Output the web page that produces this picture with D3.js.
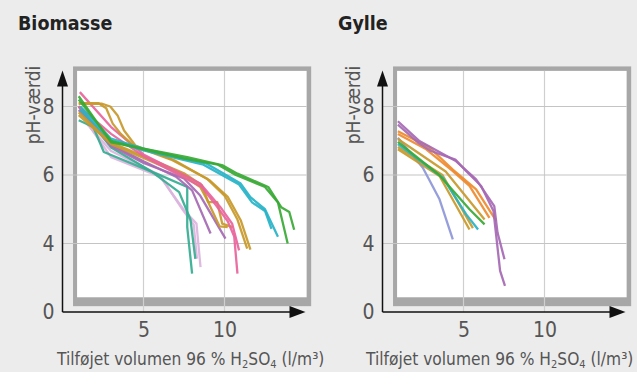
<!DOCTYPE html>
<html>
<head>
<meta charset="utf-8">
<script src="https://cdn.jsdelivr.net/npm/d3@7"></script>
<style>
  body { margin: 0; background: #ececec; }
  text { font-family: 'DejaVu Sans Condensed', 'DejaVu Sans', sans-serif; }
</style>
</head>
<body>
<svg id="chart" width="637" height="372"></svg>
<script>
// axis ticks (y axis is broken: the bottom tick is labelled 0)
var xTicks = [5, 10];
var yTicks = [2, 4, 6, 8];
var yTickLabels = ["0", "4", "6", "8"];
var gridY = [4, 6, 8];

// Biomasse: [volumen l/m3, pH]
var bioGreen1 = [[1.0,8.3],[3.0,6.95],[5.0,6.77],[7.7,6.52],[9.9,6.28],[10.8,6.04],[12.7,5.65],[13.5,5.06],[14.0,4.92],[14.3,4.4]];
var bioGreen2 = [[1.0,8.2],[3.0,7.0],[5.0,6.75],[7.5,6.48],[9.6,6.3],[10.7,6.0],[12.5,5.65],[13.3,5.2],[13.9,4.0]];
var bioCyan1 = [[1.1,8.0],[3.0,7.06],[5.0,6.77],[8.9,6.33],[11.0,5.75],[11.6,5.35],[12.5,5.0],[13.3,4.2]];
var bioCyan2 = [[1.1,7.9],[3.0,7.0],[5.0,6.72],[8.7,6.3],[10.9,5.72],[11.7,5.2],[12.5,4.95],[12.9,4.43]];
var bioGold1 = [[1.0,8.08],[2.45,8.08],[2.95,8.0],[3.4,7.74],[3.8,7.3],[4.5,6.86],[6.9,6.43],[9.1,5.84],[10.2,5.36],[11.0,4.68],[11.6,3.82]];
var bioGold2 = [[1.0,8.1],[2.2,8.1],[2.7,7.95],[3.1,7.5],[3.6,7.2],[4.4,6.85],[6.7,6.45],[8.9,5.9],[10.0,5.4],[10.8,4.7],[11.4,3.85]];
var bioGold3 = [[1.0,7.83],[3.0,6.95],[5.0,6.55],[7.5,6.05],[8.6,5.7],[9.0,5.21],[9.55,5.21],[9.86,4.58],[10.5,4.48]];
var bioGold4 = [[1.0,7.75],[3.0,6.9],[5.0,6.5],[7.4,6.0],[8.5,5.65],[8.9,5.3],[9.3,4.9],[9.7,4.5],[10.2,4.48]];
var bioPink1 = [[1.07,8.42],[3.0,7.4],[5.0,6.6],[7.5,6.0],[8.5,5.75],[9.75,5.06],[10.47,4.58],[10.9,3.8]];
var bioPink2 = [[1.0,8.0],[3.0,7.2],[5.0,6.55],[7.4,5.95],[8.6,5.65],[9.5,5.1],[10.2,4.65],[10.6,4.2],[10.8,3.12]];
var bioPurple1 = [[1.0,8.0],[3.0,6.9],[5.0,6.4],[7.0,5.95],[8.0,5.55],[9.14,4.29]];
var bioPurple2 = [[1.0,7.9],[3.0,6.85],[5.0,6.35],[7.5,5.9],[8.5,5.4],[10.06,4.14]];
var bioTeal1 = [[1.0,7.6],[1.9,7.4],[2.55,6.67],[6.05,5.99],[7.7,5.65],[7.7,4.48],[8.0,3.12]];
var bioTeal2 = [[1.0,8.0],[3.0,6.8],[5.5,6.1],[7.2,5.5],[7.9,4.7],[8.2,3.55]];
var bioLilac1 = [[1.7,7.4],[3.0,6.52],[6.05,5.94],[7.5,4.97],[8.27,4.58],[8.52,3.31]];
var bioLilac2 = [[1.5,7.5],[3.0,6.7],[6.0,6.0],[7.4,5.0],[8.1,4.55],[8.3,3.56]];

// Gylle
var gylPurple1 = [[0.95,7.57],[2.28,6.99],[4.55,6.4],[5.78,5.87],[6.9,5.09],[7.1,4.32],[7.53,3.54]];
var gylPurple2 = [[0.95,7.47],[2.18,6.95],[3.0,6.7],[4.5,6.45],[5.17,6.11],[6.09,5.68],[6.85,4.95],[7.26,3.2],[7.56,2.76]];
var gylOrange1 = [[0.95,7.28],[2.9,6.8],[4.34,6.16],[5.78,5.58],[7.02,4.66]];
var gylOrange2 = [[0.95,7.2],[2.7,6.75],[4.34,6.11],[5.37,5.68],[6.6,4.75]];
var gylGreen = [[0.95,6.97],[3.5,6.0],[5.37,5.0],[6.3,4.56]];
var gylCyan = [[0.95,6.9],[3.72,5.92],[5.17,4.85],[5.9,4.41]];
var gylGold1 = [[0.95,6.75],[3.52,5.97],[5.37,4.41]];
var gylGold2 = [[0.95,6.82],[3.7,6.0],[5.58,4.45]];
var gylGold3 = [[0.95,7.05],[3.9,6.1],[6.3,4.7]];
var gylBlue = [[0.95,7.09],[2.49,6.21],[3.52,5.29],[4.34,4.12]];

var colors = {
  green: "#38a935", cyan: "#26b3c7", gold: "#c8992a", pink: "#e8649b",
  purple: "#a569b3", teal: "#35ad91", lilac: "#dbb4de", orange: "#ee8a2e",
  blue: "#8d97d8"
};

var biomasse = [
  {c: "lilac", v: bioLilac1}, {c: "lilac", v: bioLilac2},
  {c: "teal", v: bioTeal1}, {c: "teal", v: bioTeal2},
  {c: "purple", v: bioPurple1}, {c: "purple", v: bioPurple2},
  {c: "gold", v: bioGold3}, {c: "gold", v: bioGold4},
  {c: "pink", v: bioPink1}, {c: "pink", v: bioPink2},
  {c: "gold", v: bioGold1}, {c: "gold", v: bioGold2},
  {c: "cyan", v: bioCyan1}, {c: "cyan", v: bioCyan2},
  {c: "green", v: bioGreen1}, {c: "green", v: bioGreen2}
];
var gylle = [
  {c: "blue", v: gylBlue},
  {c: "gold", v: gylGold1}, {c: "gold", v: gylGold2}, {c: "gold", v: gylGold3},
  {c: "cyan", v: gylCyan}, {c: "green", v: gylGreen},
  {c: "orange", v: gylOrange1}, {c: "orange", v: gylOrange2},
  {c: "purple", v: gylPurple1}, {c: "purple", v: gylPurple2}
];

var svg = d3.select("#chart");

var xscale = d3.scaleLinear().domain([0, 10]).range([0, 162]);
var yscale = d3.scaleLinear().domain([2, 8]).range([312, 106.5]);

function drawPanel(left, title, series, labelX) {
  var g = svg.append("g").attr("transform", "translate(" + left + ",0)");

  // title
  g.append("text")
    .attr("x", -44.5).attr("y", 30)
    .attr("font-size", 19.5).attr("font-weight", "bold")
    .attr("fill", "#222")
    .text(title);

  // grey frame + white plot area
  g.append("rect")
    .attr("x", xscale(0.65)).attr("y", yscale(9.17))
    .attr("width", xscale(15.35) - xscale(0.65))
    .attr("height", yscale(2.17) - yscale(9.17))
    .attr("fill", "#a7a7a7");
  g.append("rect")
    .attr("x", xscale(0.9)).attr("y", yscale(9.04))
    .attr("width", xscale(15.07) - xscale(0.9))
    .attr("height", yscale(2.43) - yscale(9.04))
    .attr("fill", "#fff");

  // grid
  g.selectAll(".vgrid").data(xTicks).enter().append("line")
    .attr("x1", function(d) { return xscale(d); })
    .attr("x2", function(d) { return xscale(d); })
    .attr("y1", yscale(9.04)).attr("y2", yscale(2))
    .attr("stroke", "#cfcfcf").attr("stroke-width", 1.2);
  g.selectAll(".hgrid").data(gridY).enter().append("line")
    .attr("x1", xscale(0)).attr("x2", xscale(15.07))
    .attr("y1", function(d) { return yscale(d); })
    .attr("y2", function(d) { return yscale(d); })
    .attr("stroke", "#c4c4c4").attr("stroke-width", 1.2);

  // lines
  var line = d3.line()
    .x(function(d) { return xscale(d[0]); })
    .y(function(d) { return yscale(d[1]); });
  g.selectAll(".series").data(series).enter().append("path")
    .attr("d", function(d) { return line(d.v); })
    .attr("fill", "none")
    .attr("stroke", function(d) { return colors[d.c]; })
    .attr("stroke-width", 2.3)
    .attr("stroke-linejoin", "round")
    .attr("opacity", 0.92);

  // axes (labels only, lines drawn by hand with arrows)
  var yAxis = d3.axisLeft(yscale).tickValues(yTicks).tickSize(0).tickPadding(8)
    .tickFormat(function(d, i) { return yTickLabels[i]; });
  var xAxis = d3.axisBottom(xscale).tickValues(xTicks).tickSize(0).tickPadding(10);

  var ya = g.append("g").attr("transform", "translate(" + xscale(0) + ",0)").call(yAxis);
  var xa = g.append("g").attr("transform", "translate(0," + yscale(2) + ")").call(xAxis);
  [ya, xa].forEach(function(a) {
    a.select(".domain").remove();
    a.selectAll("text").attr("font-size", 21).attr("fill", "#555")
      .style("font-family", "'DejaVu Sans Condensed', 'DejaVu Sans', sans-serif");
  });

  g.append("line")
    .attr("x1", xscale(0)).attr("x2", xscale(0))
    .attr("y1", yscale(2)).attr("y2", yscale(8.7))
    .attr("stroke", "#111").attr("stroke-width", 1.5);
  g.append("line")
    .attr("x1", xscale(0)).attr("x2", xscale(14.2))
    .attr("y1", yscale(2)).attr("y2", yscale(2))
    .attr("stroke", "#111").attr("stroke-width", 1.5);

  var ax0 = xscale(0), ay0 = yscale(2);
  var ytip = yscale(9.05), xtip = xscale(15);
  g.append("path")
    .attr("d", "M" + ax0 + "," + ytip + "L" + (ax0 - 5.5) + "," + (ytip + 16) + "L" + (ax0 + 5.5) + "," + (ytip + 16) + "Z")
    .attr("fill", "#111");
  g.append("path")
    .attr("d", "M" + xtip + "," + ay0 + "L" + (xtip - 16) + "," + (ay0 - 6) + "L" + (xtip - 16) + "," + (ay0 + 6) + "Z")
    .attr("fill", "#111");

  // axis titles
  g.append("text")
    .attr("transform", "translate(" + (xscale(0) - 23) + "," + 105 + ") rotate(-90)")
    .attr("text-anchor", "middle")
    .attr("font-size", 19).attr("fill", "#555")
    .text("pH-værdi");

  var xl = g.append("text")
    .attr("x", labelX).attr("y", 365)
    .attr("font-size", 17.2).attr("fill", "#555");
  xl.append("tspan").text("Tilføjet volumen 96 % H");
  xl.append("tspan").attr("font-size", 11).attr("dy", 3).text("2");
  xl.append("tspan").attr("dy", -3).text("SO");
  xl.append("tspan").attr("font-size", 11).attr("dy", 3).text("4");
  xl.append("tspan").attr("dy", -3).text(" (l/m³)");
}

drawPanel(62.5, "Biomasse", biomasse, -5.5);
drawPanel(382.5, "Gylle", gylle, -16.5);
</script>
</body>
</html>
